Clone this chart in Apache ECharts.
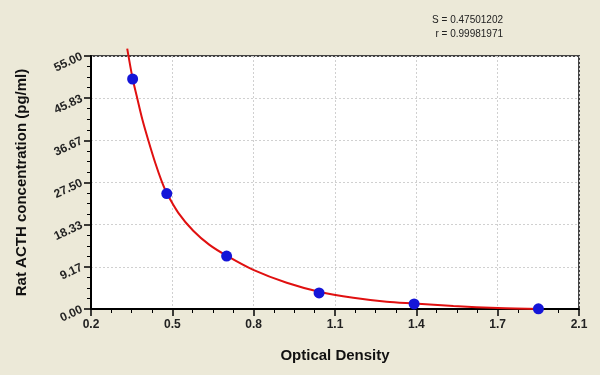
<!DOCTYPE html>
<html><head><meta charset="utf-8">
<script src="https://cdn.jsdelivr.net/npm/echarts@6/dist/echarts.min.js"></script>
<style>html,body{margin:0;padding:0;background:#ECE9D8;}#c{width:600px;height:375px;}</style>
</head><body><div id="c"></div>
<script>
var xTickLabels = ["0.2","0.5","0.8","1.1","1.4","1.7","2.1"];
var yTickLabels = ["0.00","9.17","18.33","27.50","36.67","45.83","55.00"];
var pointsOD = [0.362, 0.495, 0.728, 1.088, 1.458, 1.942];
var pointsConc = [50.0, 25.1, 11.5, 3.5, 1.1, 0.05];
var curveOD = [0.341, 0.362, 0.378, 0.400, 0.423, 0.450, 0.475, 0.495, 0.540, 0.598, 0.660, 0.728, 0.832, 0.962, 1.088, 1.221, 1.351, 1.458, 1.611, 1.784, 1.955];
var curveConc = [56.6, 50.1, 46.3, 41.2, 36.7, 31.8, 27.8, 25.2, 20.9, 17.0, 14.0, 11.6, 8.5, 5.7, 3.76, 2.45, 1.59, 1.2, 0.65, 0.22, 0.0];
var statsText = ["S = 0.47501202", "r = 0.99981971"];

var chart = echarts.init(document.getElementById('c'), null, {renderer:'canvas'});
function zip(a,b){return a.map(function(v,i){return [v,b[i]];});}
var font = 'Liberation Sans, Arial, sans-serif';
chart.setOption({
  backgroundColor:'#ECE9D8',
  animation:false,
  graphic:[
    {type:'text', right:97, top:15, style:{text:statsText[0], font:'10px '+font, fill:'#222', textAlign:'right'}},
    {type:'text', right:97, top:29, style:{text:statsText[1], font:'10px '+font, fill:'#222', textAlign:'right'}}
  ],
  grid:{left:91, right:21, top:56, bottom:66, show:true, backgroundColor:'#ffffff', borderColor:'#444', borderWidth:2},
  xAxis:{type:'value', min:0.2, max:2.1, interval:1.9/6,
    name:'Optical Density', nameLocation:'middle', nameGap:39,
    nameTextStyle:{fontFamily:font, fontSize:15, fontWeight:'bold', color:'#111'},
    axisLine:{lineStyle:{color:'#000', width:2}},
    axisTick:{length:7, lineStyle:{color:'#000', width:1.5}},
    minorTick:{show:true, splitNumber:4, length:4, lineStyle:{color:'#000', width:1}},
    splitLine:{show:true, lineStyle:{color:'#d0d0d0', type:[2,2], width:1}},
    axisLabel:{margin:10, fontFamily:font, fontSize:12, fontWeight:'bold', color:'#222',
      formatter:function(v,i){return xTickLabels[i] !== undefined ? xTickLabels[i] : '';}}
  },
  yAxis:{type:'value', min:0, max:55, interval:55/6,
    name:'Rat ACTH concentration (pg/ml)', nameLocation:'middle', nameGap:62,
    nameTextStyle:{fontFamily:font, fontSize:15, fontWeight:'bold', color:'#111'},
    axisLine:{lineStyle:{color:'#000', width:2}},
    axisTick:{length:7, lineStyle:{color:'#000', width:1.5}},
    minorTick:{show:true, splitNumber:4, length:4, lineStyle:{color:'#000', width:1}},
    splitLine:{show:true, lineStyle:{color:'#d0d0d0', type:[2,2], width:1}},
    axisLabel:{margin:9, rotate:25, fontFamily:font, fontSize:12, fontWeight:'bold', color:'#222',
      formatter:function(v,i){return yTickLabels[i] !== undefined ? yTickLabels[i] : '';}}
  },
  series:[
    {type:'line', data:zip(curveOD, curveConc), smooth:0.3, showSymbol:false, clip:false,
      lineStyle:{color:'#e01010', width:2}, z:2},
    {type:'scatter', data:zip(pointsOD, pointsConc), symbolSize:11, clip:false,
      itemStyle:{color:'#1515d8', opacity:1}, z:3}
  ]
});
</script></body></html>
